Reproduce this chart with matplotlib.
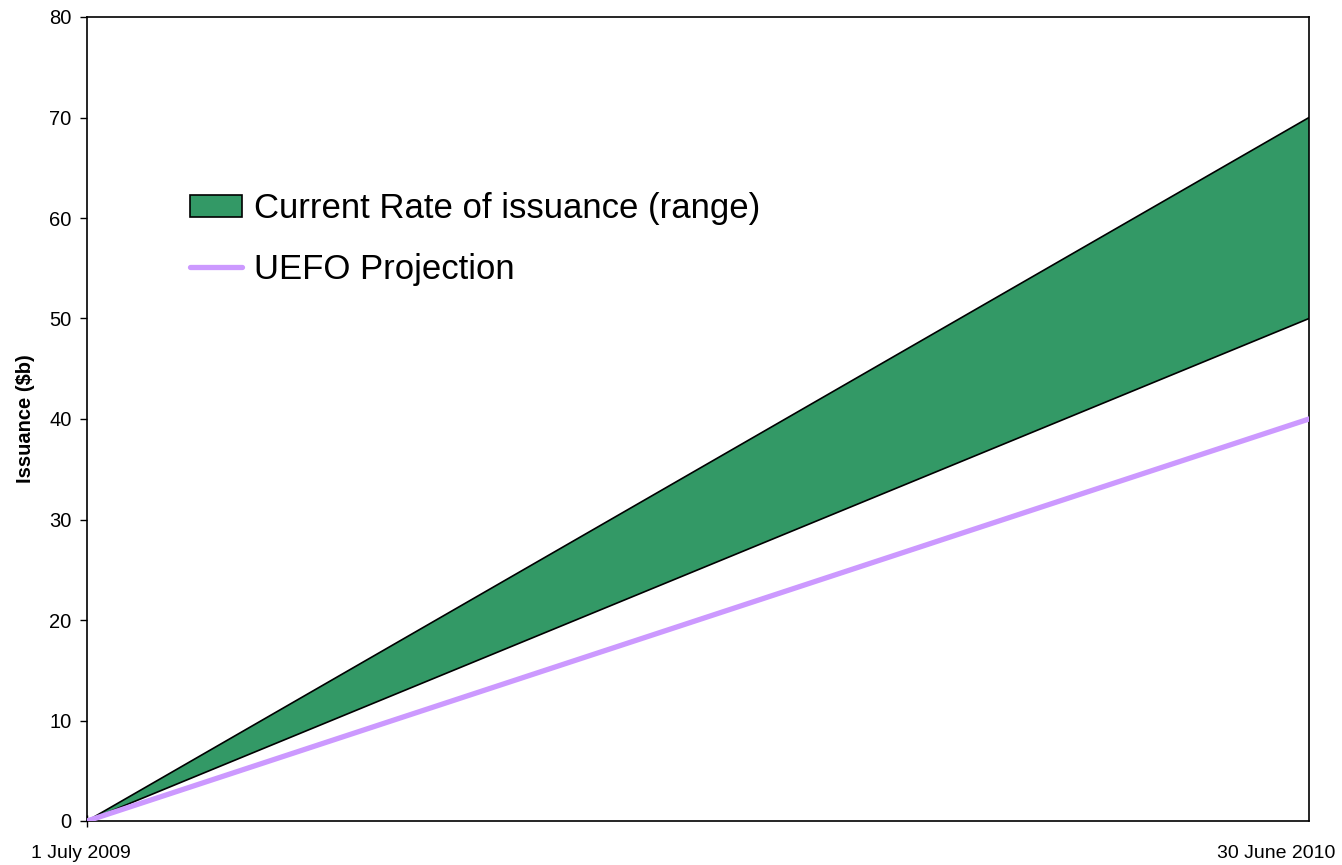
import numpy as np
import matplotlib
matplotlib.use('Agg')
import matplotlib.pyplot as plt
import matplotlib.transforms as mtransforms
from matplotlib.patches import Patch
from matplotlib.lines import Line2D

plt.rcParams['font.family'] = ['Liberation Sans', 'DejaVu Sans']

# data
x_pos = [0, 1]
x_labels = ['1 July 2009', '30 June 2010']
range_low = [0, 50]
range_high = [0, 70]
uefo = [0, 40]

green = '#339966'
purple = '#CC99FF'

fig = plt.figure(figsize=(13.42, 8.65), dpi=100)
ax = fig.add_axes([87/1342, 1 - 821/865, (1309-87)/1342, (821-17)/865])

ax.fill_between(x_pos, range_low, range_high, facecolor=green, edgecolor='none', zorder=2)
ax.plot(x_pos, range_low, color='black', lw=1.2, zorder=3)
ax.plot(x_pos, range_high, color='black', lw=1.2, zorder=3)
ax.plot(x_pos, uefo, color=purple, lw=3.8, zorder=4, solid_capstyle='round')

ax.set_xlim(0, 1)
ax.set_ylim(0, 80)
ax.set_yticks(np.arange(0, 81, 10))
ax.set_xticks(x_pos)
ax.set_xticklabels(x_labels)
ax.tick_params(axis='y', direction='out', length=5, width=1, labelsize=14.5, pad=6)
ax.tick_params(axis='x', direction='inout', length=8, width=1, labelsize=14, pad=13)

# no tick mark at the right end
ax.xaxis.get_major_ticks()[1].tick1line.set_visible(False)

labs = ax.get_xticklabels()
labs[0].set_transform(labs[0].get_transform() + mtransforms.ScaledTranslation(-6/100, 0, fig.dpi_scale_trans))
labs[1].set_horizontalalignment('right')
labs[1].set_transform(labs[1].get_transform() + mtransforms.ScaledTranslation(26/100, 0, fig.dpi_scale_trans))

for s in ax.spines.values():
    s.set_linewidth(1.2)
    s.set_color('black')

ax.set_ylabel('Issuance ($b)', fontsize=14.5, fontweight='bold', labelpad=10)

handles = [Patch(facecolor=green, edgecolor='black', lw=1.2),
           Line2D([0], [0], color=purple, lw=3.8, solid_capstyle='round')]
leg = ax.legend(handles, ['Current Rate of issuance (range)', 'UEFO Projection'],
                loc='center left', bbox_to_anchor=((190-87)/1222, (821-239)/804),
                frameon=False, fontsize=25, borderpad=0, borderaxespad=0,
                handlelength=1.5, handleheight=0.6, handletextpad=0.35, labelspacing=0.8)

fig.savefig('out.png', dpi=100)
